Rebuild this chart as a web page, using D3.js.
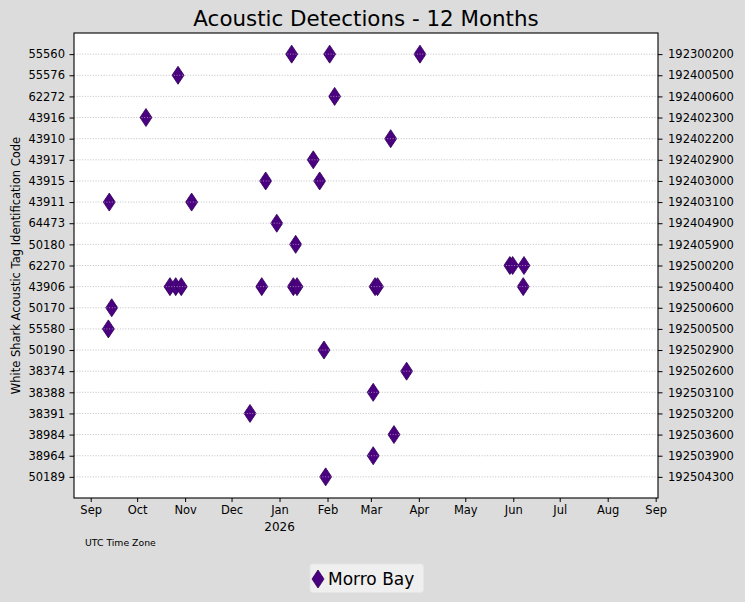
<!DOCTYPE html>
<html>
<head>
<meta charset="utf-8">
<script src="https://cdn.jsdelivr.net/npm/d3@7/dist/d3.min.js"></script>
<style>
  html, body { margin: 0; padding: 0; background: #dcdcdc; }
  svg { display: block; font-family: "DejaVu Sans", sans-serif; }
</style>
</head>
<body>
<svg id="chart" width="745" height="602"></svg>
<script>
// ---- Data ----
const tagCodes = ["55560","55576","62272","43916","43910","43917","43915","43911","64473","50180",
  "62270","43906","50170","55580","50190","38374","38388","38391","38984","38964","50189"];
const receiverCodes = ["192300200","192400500","192400600","192402300","192402200","192402900",
  "192403000","192403100","192404900","192405900","192500200","192500400","192500600","192500500",
  "192502900","192502600","192503100","192503200","192503600","192503900","192504300"];
const monthTicks = ["2025-09-01","2025-10-01","2025-11-01","2025-12-01","2026-01-01","2026-02-01",
  "2026-03-01","2026-04-01","2026-05-01","2026-06-01","2026-07-01","2026-08-01","2026-09-01"];
const monthLabels = ["Sep","Oct","Nov","Dec","Jan","Feb","Mar","Apr","May","Jun","Jul","Aug","Sep"];
const detectionTag = [
  "55560","55560","55560",
  "55576",
  "62272",
  "43916",
  "43910",
  "43917",
  "43915","43915",
  "43911","43911",
  "64473",
  "50180",
  "62270","62270","62270",
  "43906","43906","43906","43906","43906","43906","43906","43906","43906",
  "50170",
  "55580",
  "50190",
  "38374",
  "38388",
  "38391",
  "38984",
  "38964",
  "50189"
];
const detectionTime = [
  "2026-01-08T20:00Z","2026-02-02T09:00Z","2026-04-01T17:00Z",
  "2025-10-27T10:00Z",
  "2026-02-05T14:00Z",
  "2025-10-06T17:00Z",
  "2026-03-13T19:00Z",
  "2026-01-22T19:00Z",
  "2025-12-23T01:00Z","2026-01-26T22:00Z",
  "2025-09-13T00:00Z","2025-11-05T05:00Z",
  "2025-12-30T05:00Z",
  "2026-01-11T10:00Z",
  "2026-05-29T19:00Z","2026-05-31T14:00Z","2026-06-07T22:00Z",
  "2025-10-22T05:00Z","2025-10-25T22:00Z","2025-10-29T12:00Z","2025-12-20T12:00Z",
  "2026-01-09T22:00Z","2026-01-12T07:00Z","2026-03-03T17:00Z","2026-03-05T07:00Z","2026-06-07T10:00Z",
  "2025-09-14T14:00Z",
  "2025-09-12T10:00Z",
  "2026-01-29T17:00Z",
  "2026-03-24T02:00Z",
  "2026-03-02T12:00Z",
  "2025-12-12T22:00Z",
  "2026-03-15T22:00Z",
  "2026-03-02T12:00Z",
  "2026-01-30T19:00Z"
];
const locationName = "Morro Bay";
const chartTitle = "Acoustic Detections - 12 Months";

// ---- Layout ----
const W = 745, H = 602;
const plot = { left: 74, right: 658, top: 33, bottom: 498 };
const markerColor = "#4B0082", markerEdge = "#2f0057";

const svg = d3.select("#chart");
svg.append("rect").attr("width", W).attr("height", H).attr("fill", "#dcdcdc");

const x = d3.scaleUtc()
  .domain([new Date("2025-08-21T05:00Z"), new Date("2026-09-02T12:00Z")])
  .range([plot.left, plot.right]);
const y = d3.scaleLinear()
  .domain([-1, tagCodes.length])
  .range([plot.top, plot.bottom]);

svg.append("rect")
  .attr("x", plot.left).attr("y", plot.top)
  .attr("width", plot.right - plot.left).attr("height", plot.bottom - plot.top)
  .attr("fill", "#ffffff");

const diamond = "M0,-9L6,0L0,9L-6,0Z";

// markers
const pts = detectionTag.map((t, i) => ({ row: tagCodes.indexOf(t), time: new Date(detectionTime[i]) }));
svg.append("g").selectAll("path").data(pts).join("path")
  .attr("d", diamond)
  .attr("transform", d => `translate(${x(d.time)},${y(d.row)})`)
  .attr("fill", markerColor)
  .attr("stroke", markerEdge)
  .attr("stroke-width", 0.8);

// grid (drawn over markers)
svg.append("g").selectAll("line").data(d3.range(tagCodes.length)).join("line")
  .attr("x1", plot.left).attr("x2", plot.right)
  .attr("y1", d => y(d)).attr("y2", d => y(d))
  .attr("stroke", "#b0b0b0").attr("stroke-width", 0.8)
  .attr("stroke-dasharray", "1,1.7");

// frame
svg.append("rect")
  .attr("x", plot.left).attr("y", plot.top)
  .attr("width", plot.right - plot.left).attr("height", plot.bottom - plot.top)
  .attr("fill", "none").attr("stroke", "#000").attr("stroke-width", 1.1);

// axes
const fontSize = "11.5px";
const leftAxis = d3.axisLeft(y).tickValues(d3.range(tagCodes.length))
  .tickFormat(i => tagCodes[i]).tickSize(4.5).tickPadding(4.5);
const rightAxis = d3.axisRight(y).tickValues(d3.range(receiverCodes.length))
  .tickFormat(i => receiverCodes[i]).tickSize(4.5).tickPadding(5.5);
const tickDates = monthTicks.map(s => new Date(s + "T00:00Z"));
const bottomAxis = d3.axisBottom(x).tickValues(tickDates)
  .tickFormat((d, i) => monthLabels[i]).tickSize(4).tickPadding(4);

function styleAxis(g) {
  g.select(".domain").remove();
  g.selectAll(".tick line").attr("stroke", "#000").attr("stroke-width", 1);
  g.selectAll(".tick text").attr("fill", "#000").style("font-size", fontSize)
    .style("font-family", "'DejaVu Sans', sans-serif");
}
svg.append("g").attr("transform", `translate(${plot.left},0)`).call(leftAxis).call(styleAxis);
svg.append("g").attr("transform", `translate(${plot.right},0)`).call(rightAxis).call(styleAxis);
svg.append("g").attr("transform", `translate(0,${plot.bottom})`).call(bottomAxis).call(styleAxis);

// year label under Jan
svg.append("text")
  .attr("x", x(new Date("2026-01-01T00:00Z"))).attr("y", 531)
  .attr("text-anchor", "middle").style("font-size", "12px").attr("fill", "#000")
  .text("2026");

// UTC note
svg.append("text").attr("x", 85).attr("y", 546)
  .style("font-size", "9.3px").attr("fill", "#000").text("UTC Time Zone");

// title
svg.append("text").attr("x", (plot.left + plot.right) / 2).attr("y", 26)
  .attr("text-anchor", "middle").style("font-size", "21.4px").attr("fill", "#000")
  .text(chartTitle);

// y label
svg.append("text")
  .attr("transform", `translate(19.5,${(plot.top + plot.bottom) / 2}) rotate(-90)`)
  .attr("text-anchor", "middle").style("font-size", "11.5px").attr("fill", "#000")
  .text("White Shark Acoustic Tag Identification Code");

// legend
const lg = svg.append("g");
lg.append("rect").attr("x", 310).attr("y", 564).attr("width", 113.5).attr("height", 28.5)
  .attr("rx", 3).attr("fill", "#efefef").attr("stroke", "#e6e6e6").attr("stroke-width", 0.8);
lg.append("path").attr("d", diamond)
  .attr("transform", "translate(318,579)")
  .attr("fill", markerColor).attr("stroke", markerEdge).attr("stroke-width", 0.8);
lg.append("text").attr("x", 328).attr("y", 585)
  .style("font-size", "17px").attr("fill", "#000").text(locationName);
</script>
</body>
</html>
